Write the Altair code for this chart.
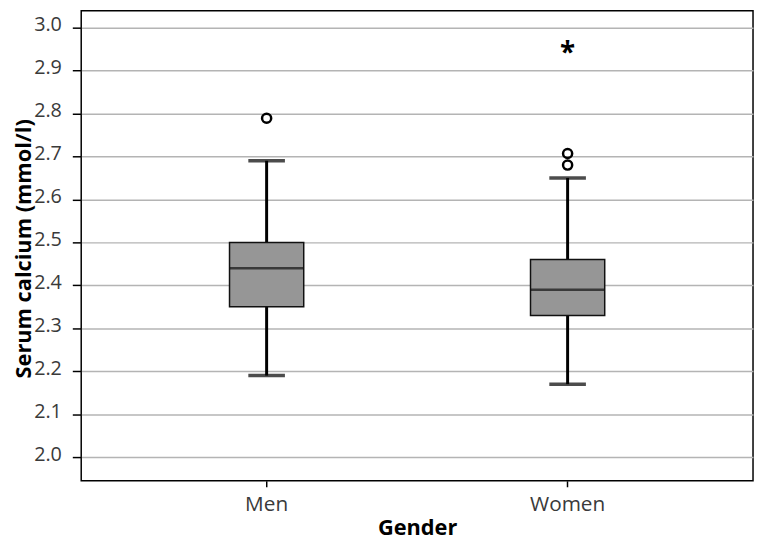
import altair as alt
import pandas as pd

groups = ["Men", "Women"]
lower_whisker = [2.19, 2.17]
q1 = [2.35, 2.33]
median = [2.44, 2.39]
q3 = [2.50, 2.46]
upper_whisker = [2.69, 2.65]

outlier_group = ["Men", "Women", "Women"]
outlier_value = [2.789, 2.707, 2.680]

extreme_group = ["Women"]
extreme_value = [2.945]

y_ticks = [2.0, 2.1, 2.2, 2.3, 2.4, 2.5, 2.6, 2.7, 2.8, 2.9, 3.0]

box_df = pd.DataFrame({
    "Gender": groups, "lo": lower_whisker, "q1": q1, "med": median,
    "q3": q3, "hi": upper_whisker,
})
out_df = pd.DataFrame({"Gender": outlier_group, "v": outlier_value})
ext_df = pd.DataFrame({"Gender": extreme_group, "v": extreme_value})

FONT = "Open Sans"

x_enc = alt.X(
    "Gender:N",
    sort=groups,
    scale=alt.Scale(paddingOuter=0.116, paddingInner=0),
    axis=alt.Axis(
        title="Gender", grid=False, domain=False, ticks=True, tickSize=6,
        tickColor="black", tickWidth=1.5, labelAngle=0,
        labelFont=FONT, labelFontSize=21, labelColor="#3a3a3a",
        labelBaseline="alphabetic", labelPadding=24,
        titleFont=FONT, titleFontSize=22, titleFontWeight="bold",
        titleColor="black", titleBaseline="alphabetic", titleY=54,
    ),
)
yscale = alt.Scale(domain=[1.945, 3.039], nice=False, zero=False)
y_axis = alt.Axis(
    title="Serum calcium (mmol/l)", values=y_ticks, format=".1f",
    grid=True, gridColor="#b4b4b4", gridWidth=1.5, domain=False,
    tickSize=9, tickColor="black", tickWidth=1.5,
    labelFont=FONT, labelFontSize=20, labelColor="#3a3a3a", labelPadding=11,
    labelOffset=-3,
    titleFont=FONT, titleFontSize=22, titleFontWeight="bold", titleColor="black",
    titleX=-58, titleY=240, titleBaseline="middle", titleAngle=-90,
)

base = alt.Chart(box_df)

whisker = base.mark_rule(color="black", strokeWidth=3).encode(
    x=x_enc, y=alt.Y("lo:Q", scale=yscale, axis=y_axis), y2="hi:Q"
)
cap_lo = base.mark_tick(color="black", size=37, thickness=3.5).encode(
    x=x_enc, y=alt.Y("lo:Q", scale=yscale)
)
cap_hi = base.mark_tick(color="black", size=37, thickness=3.5).encode(
    x=x_enc, y=alt.Y("hi:Q", scale=yscale)
)
box = base.mark_bar(size=75, fill="#969696", stroke="#111111", strokeWidth=1.5).encode(
    x=x_enc, y=alt.Y("q1:Q", scale=yscale), y2="q3:Q"
)
med = base.mark_tick(color="#111111", size=75, thickness=2.5).encode(
    x=x_enc, y=alt.Y("med:Q", scale=yscale)
)
outl = alt.Chart(out_df).mark_point(
    shape="circle", filled=False, stroke="black", strokeWidth=2.5, size=85, opacity=1
).encode(x=x_enc, y=alt.Y("v:Q", scale=yscale))
ext = alt.Chart(ext_df).mark_text(
    text="*", font=FONT, fontSize=28, fontWeight="bold", color="black",
    baseline="alphabetic", dy=11
).encode(x=x_enc, y=alt.Y("v:Q", scale=yscale))

chart = alt.layer(whisker, cap_lo, cap_hi, box, med, outl, ext).properties(
    width=679, height=475,
    autosize=alt.AutoSizeParams(type="none"),
    padding={"left": 74, "top": 0, "right": 2, "bottom": 64},
    background="white",
).configure_view(stroke="black", strokeWidth=1.5)

chart.save("out.html", embed_options={"renderer": "svg", "actions": False})
